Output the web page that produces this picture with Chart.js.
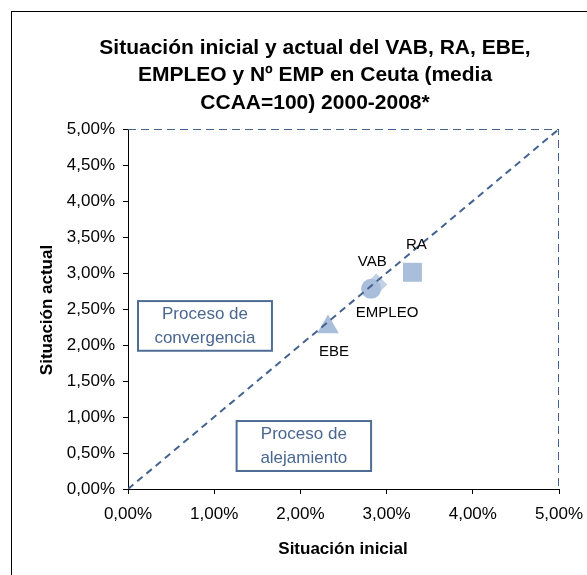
<!DOCTYPE html>
<html>
<head>
<meta charset="utf-8">
<script src="https://cdn.jsdelivr.net/npm/chart.js@4/dist/chart.umd.min.js"></script>
<style>
  html, body { margin: 0; padding: 0; background: #fff; }
  #wrap { width: 587px; height: 575px; position: relative; }
</style>
</head>
<body>
<div id="wrap"><canvas id="c" width="587" height="575"></canvas></div>
<script>
// ---- data ----
const seriesNames = ['VAB', 'RA', 'EBE', 'EMPLEO'];
const situacionInicial = [2.88, 3.30, 2.32, 2.82];
const situacionActual = [2.84, 3.01, 2.25, 2.78];
const markerShapes = ['rectRot', 'rect', 'triangle', 'circle'];
const diagonalX = [0, 5];
const diagonalY = [0, 5];
const frameX = [0, 5, 5];
const frameY = [5, 5, 0];
const xTicks = [0, 1, 2, 3, 4, 5];
const yTicks = [0, 0.5, 1, 1.5, 2, 2.5, 3, 3.5, 4, 4.5, 5];
const titleLines = ['Situación inicial y actual del VAB, RA, EBE,', 'EMPLEO y Nº EMP en Ceuta (media', 'CCAA=100) 2000-2008*'];
const xTitle = 'Situación inicial';
const yTitle = 'Situación actual';
const boxTexts = [['Proceso de', 'convergencia'], ['Proceso de', 'alejamiento']];

// ---- styles ----
const markerRadius = [11, 13.4, 12.5, 10];
const labelOffsets = [[-4, -23], [4, -27], [6, 25], [16, 24]];
const boxRects = [[0.116, 2.61, 1.67, 1.92], [1.26, 0.944, 2.82, 0.25]]; // x1,y1,x2,y2 in data units
const FONT = '"Liberation Sans", Arial, sans-serif';
const lineBlue = '#44638e';
const markerFill = '#a9bedb';

const fmt = v => v.toFixed(2).replace('.', ',') + '%';

const pointDatasets = seriesNames.map((n, i) => ({
  label: n,
  type: 'scatter',
  data: [{ x: situacionInicial[i], y: situacionActual[i] }],
  pointStyle: markerShapes[i],
  pointRadius: markerRadius[i],
  pointHoverRadius: markerRadius[i],
  backgroundColor: i === 0 ? '#c3d1e6' : markerFill,
  borderColor: i === 0 ? '#c3d1e6' : markerFill,
  borderWidth: 0,
  order: i === 0 ? 3 : 2
}));

const lineDatasets = [
  {
    label: 'diag', type: 'line',
    data: diagonalX.map((x, i) => ({ x, y: diagonalY[i] })),
    borderColor: lineBlue, borderWidth: 2, borderDash: [7, 5], pointRadius: 0, fill: false, order: 1
  },
  {
    label: 'frame', type: 'line',
    data: frameX.map((x, i) => ({ x, y: frameY[i] })),
    borderColor: lineBlue, borderWidth: 2, borderDash: [8, 5], pointRadius: 0, fill: false, order: 1
  }
];

const decor = {
  id: 'decor',
  beforeDraw(chart) {
    const ctx = chart.ctx;
    ctx.save();
    ctx.fillStyle = '#fff';
    ctx.fillRect(0, 0, chart.width, chart.height);
    ctx.strokeStyle = '#000';
    ctx.lineWidth = 1;
    ctx.strokeRect(11.5, 11.5, 800, 800);
    ctx.restore();
  },
  afterDraw(chart) {
    const ctx = chart.ctx;
    const xs = chart.scales.x, ys = chart.scales.y;
    ctx.save();
    // title
    ctx.fillStyle = '#000';
    ctx.textAlign = 'center';
    ctx.textBaseline = 'middle';
    ctx.font = 'bold 21px ' + FONT;
    titleLines.forEach((t, i) => ctx.fillText(t, 315, 48 + i * 27.5));
    // axis titles
    ctx.font = 'bold 17px ' + FONT;
    ctx.fillText(xTitle, 343, 549);
    ctx.save();
    ctx.translate(47, 310);
    ctx.rotate(-Math.PI / 2);
    ctx.fillText(yTitle, 0, 0);
    ctx.restore();
    // boxes
    boxRects.forEach((r, i) => {
      const x1 = xs.getPixelForValue(r[0]), y1 = ys.getPixelForValue(r[1]);
      const x2 = xs.getPixelForValue(r[2]), y2 = ys.getPixelForValue(r[3]);
      ctx.fillStyle = '#fff';
      ctx.fillRect(x1, y1, x2 - x1, y2 - y1);
      ctx.strokeStyle = '#4f6d94';
      ctx.lineWidth = 2;
      ctx.strokeRect(x1, y1, x2 - x1, y2 - y1);
      ctx.fillStyle = '#4a6790';
      ctx.font = '17px ' + FONT;
      const cx = (x1 + x2) / 2, cy = (y1 + y2) / 2;
      ctx.fillText(boxTexts[i][0], cx, cy - 12);
      ctx.fillText(boxTexts[i][1], cx, cy + 12);
    });
    // point labels
    ctx.fillStyle = '#000';
    ctx.font = '15px ' + FONT;
    seriesNames.forEach((n, i) => {
      const px = xs.getPixelForValue(situacionInicial[i]);
      const py = ys.getPixelForValue(situacionActual[i]);
      ctx.fillText(n, px + labelOffsets[i][0], py + labelOffsets[i][1]);
    });
    ctx.restore();
  }
};

new Chart(document.getElementById('c'), {
  type: 'scatter',
  data: { datasets: [...lineDatasets, ...pointDatasets] },
  options: {
    responsive: false,
    animation: false,
    events: [],
    layout: { padding: { left: 0, right: 28, top: 129, bottom: 0 } },
    plugins: { legend: { display: false }, tooltip: { enabled: false }, title: { display: false } },
    scales: {
      x: {
        type: 'linear', min: 0, max: 5,
        afterBuildTicks: s => { s.ticks = xTicks.map(v => ({ value: v })); },
        afterFit: s => { s.height = 86; s.paddingLeft = 0; s.paddingRight = 0; },
        ticks: { callback: v => fmt(v), color: '#000', font: { family: FONT, size: 17 }, padding: 10, maxRotation: 0 },
        grid: { drawOnChartArea: false, drawTicks: true, tickLength: 5, color: '#000' },
        border: { display: true, color: '#000', width: 1 }
      },
      y: {
        type: 'linear', min: 0, max: 5,
        afterBuildTicks: s => { s.ticks = yTicks.map(v => ({ value: v })); },
        afterFit: s => { s.width = 128; s.paddingTop = 0; s.paddingBottom = 0; },
        ticks: { callback: v => fmt(v), color: '#000', font: { family: FONT, size: 17 }, padding: 8 },
        grid: { drawOnChartArea: false, drawTicks: true, tickLength: 5, color: '#000' },
        border: { display: true, color: '#000', width: 1 }
      }
    }
  },
  plugins: [decor]
});
</script>
</body>
</html>
